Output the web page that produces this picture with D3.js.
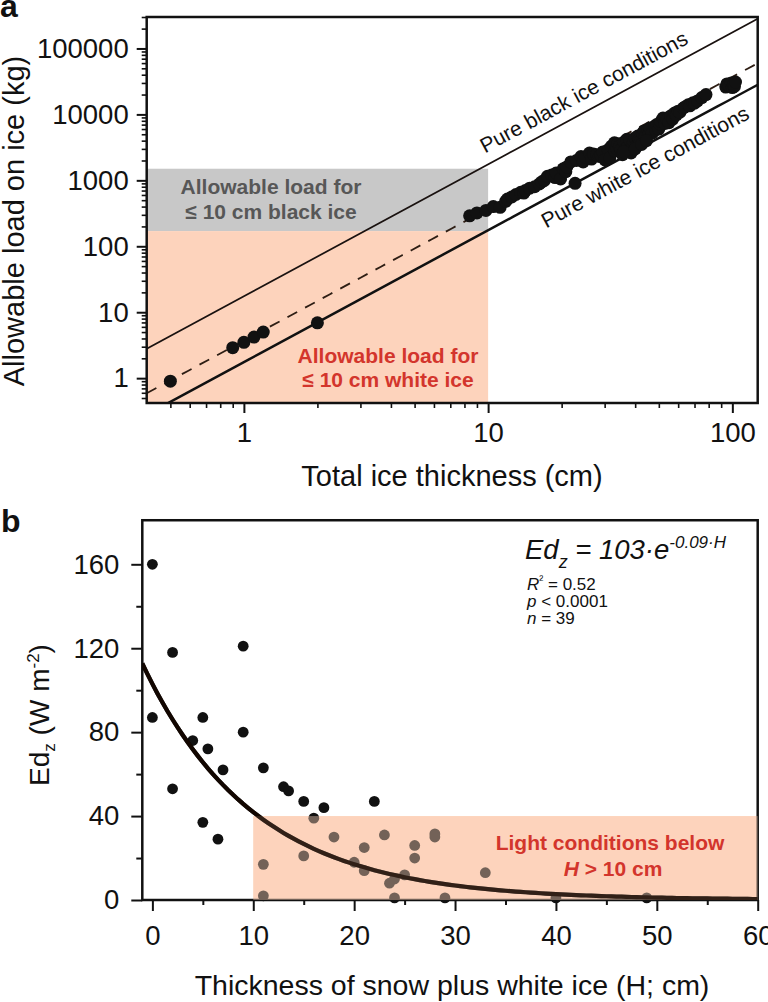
<!DOCTYPE html>
<html><head><meta charset="utf-8">
<script src="https://cdn.jsdelivr.net/npm/d3@7"></script>
<style>
body{margin:0;background:#fff}
svg{display:block}
text{font-family:"Liberation Sans",Arial,Helvetica,sans-serif;fill:#111}
</style>
</head><body>
<svg id="chart" width="768" height="1002"></svg>
<script>
// ---------- Panel a data ----------
const thinIceThickness = [0.5, 0.9, 1.0, 1.1, 1.2, 2.0];
const thinIceLoad      = [0.9, 2.9, 3.5, 4.2, 5.0, 6.9];
const lakeIceThickness = [
  8.4, 9.0, 9.8, 10.5, 11.2, 11.8, 12.0, 12.5, 13.0, 13.6, 14.0, 14.2,
  14.8, 15.5, 16.2, 16.6, 17.0, 17.5, 18.2, 18.8, 19.0, 19.8, 20.3, 20.8, 21.0,
  21.8, 22.7, 23.0, 24.0, 24.5, 25.0, 26.0, 26.5, 27.0, 27.8, 28.5, 29.0, 29.5,
  30.1, 31.0, 31.5, 32.0, 32.9, 33.0, 33.5, 34.0, 34.5, 35.0, 35.5, 36.0, 36.5, 37.0, 37.5,
  38.0, 38.5, 39.0, 39.5, 40.0, 40.5, 41.0, 41.5, 42.0, 43.0, 43.5, 44.0, 45.0, 45.5,
  46.0, 47.0, 48.0, 48.5, 49.0, 50.0, 50.5, 51.0, 52.0, 53.0, 54.0, 55.0, 56.0, 57.0,
  58.0, 59.0, 60.0, 61.0, 63.0, 64.0, 66.0, 67.0, 69.0, 70.0, 72.0, 75.0, 78.0,
  94.0, 95.0, 97.0, 99.0, 100.0, 101.0, 102.0, 103.0,
  36.0, 40.0, 42.5, 44.5];
const lakeIceLoad = [
  290, 320, 350, 400, 390, 480, 520, 560, 610, 660, 640, 700,
  760, 800, 880, 950, 1000, 1150, 1200, 1100, 1290, 1050, 1500, 1350, 1600,
  1900, 900, 2000, 2300, 1900, 2250, 2600, 2100, 2500, 2450, 2300, 2400, 2700,
  2050, 2900, 2200, 3300, 3700, 2800, 3100, 3600, 3250, 2900, 2450, 3800, 3000, 4200, 3300,
  4100, 2600, 3500, 3900, 4400, 3300, 4700, 4200, 3900, 5200, 5600, 4600, 5800, 5000,
  6200, 5200, 6600, 5800, 7000, 6000, 7200, 7800, 8800, 7300, 8300, 7500, 9500, 8500,
  10500, 9800, 11200, 10800, 12500, 13000, 14000, 13500, 15000, 14800, 16000, 18000, 20000,
  26000, 29000, 27500, 30000, 25500, 28000, 26500, 31000,
  2700, 3000, 3500, 4000];
const blackIceCoef = 17.5;   // load = coef * h^2
const whiteIceCoef = 1.75;
const fittedCoef   = 3.7;
const blackIceBox  = [0.4, 10, 170, 1500];   // h0,h1,load0,load1
const whiteIceBox  = [0.4, 10, 0.42, 170];
const loadTicks      = [1, 10, 100, 1000, 10000, 100000];
const thicknessTicks = [1, 10, 100];

// ---------- Panel b data ----------
const snowWhiteH = [0, 0, 2, 2, 4, 5, 5, 5.5, 6.5, 7, 9, 9, 11, 11, 11, 13, 13.5, 15, 15, 16,
                    17, 18, 20, 21, 21, 22, 23, 23.5, 24, 24, 25, 26, 26, 28, 28, 29, 33, 40, 49];
const edzValues  = [160, 87, 118, 53, 76, 87, 37, 72, 29, 62, 121, 80, 63, 17, 2, 54, 52, 47, 21, 39,
                    44, 30, 18, 25, 14, 47, 31, 8, 10, 1, 12, 26, 20, 30, 31.5, 1, 13, 1, 1];
const fitA = 103, fitK = 0.09;
const lightBox = [10, 60, 0, 40];
const edTicks = [0, 40, 80, 120, 160];
const edMinorTicks = [20, 60, 100, 140];
const hTicks = [0, 10, 20, 30, 40, 50, 60];
const hMinorTicks = [5, 15, 25, 35, 45, 55];

const svg = d3.select("#chart");
const FONT = 27.5;
const PEACH = "#fdd3bc";

// ================= PANEL A =================
const ax = d3.scaleLog().domain([0.4, 127]).range([146.7, 757.7]);
const ay = d3.scaleLog().domain([0.42, 3e5]).range([403, 17]);
const ga = svg.append("g");

ga.append("clipPath").attr("id","clipA").append("rect")
  .attr("x",146.7).attr("y",17).attr("width",611).attr("height",386);

ga.append("rect").attr("x",ax(blackIceBox[0])).attr("width",ax(blackIceBox[1])-ax(blackIceBox[0]))
  .attr("y",ay(blackIceBox[3])).attr("height",ay(blackIceBox[2])-ay(blackIceBox[3])).attr("fill","#c8c8c8");
ga.append("rect").attr("x",ax(whiteIceBox[0])).attr("width",ax(whiteIceBox[1])-ax(whiteIceBox[0]))
  .attr("y",ay(whiteIceBox[3])).attr("height",ay(whiteIceBox[2])-ay(whiteIceBox[3])).attr("fill",PEACH);

ga.append("text").attr("x",271).attr("y",193.5).attr("text-anchor","middle")
  .style("font-size","21px").style("font-weight","bold").style("fill","#575757").text("Allowable load for");
ga.append("text").attr("x",271).attr("y",218.5).attr("text-anchor","middle")
  .style("font-size","21px").style("font-weight","bold").style("fill","#575757").text("≤ 10 cm black ice");
ga.append("text").attr("x",388).attr("y",363).attr("text-anchor","middle")
  .style("font-size","21px").style("font-weight","bold").style("fill","#d3352c").text("Allowable load for");
ga.append("text").attr("x",388).attr("y",387).attr("text-anchor","middle")
  .style("font-size","21px").style("font-weight","bold").style("fill","#d3352c").text("≤ 10 cm white ice");

const hGrid = d3.range(0, 61).map(i => 0.4 * Math.pow(127/0.4, i/60));
const lineFor = c => d3.line().x(h => ax(h)).y(h => ay(c*h*h));
const lines = ga.append("g").attr("clip-path","url(#clipA)");
lines.append("path").attr("d", lineFor(blackIceCoef)(hGrid)).attr("fill","none").attr("stroke","#1a1210").attr("stroke-width",1.8);
lines.append("path").attr("d", lineFor(whiteIceCoef)(hGrid)).attr("fill","none").attr("stroke","#111").attr("stroke-width",2.4);
lines.append("path").attr("d", lineFor(fittedCoef)(hGrid)).attr("fill","none").attr("stroke","#2e1e14")
  .attr("stroke-width",1.8).attr("stroke-dasharray","11,9");

const angleA = Math.atan2(ay(blackIceCoef*10000) - ay(blackIceCoef*100), ax(100) - ax(10)) * 180 / Math.PI;
function lineLabel(coef, h, offset, txt){
  const x = ax(h), y = ay(coef*h*h);
  ga.append("text").attr("transform",`translate(${x},${y}) rotate(${angleA}) translate(0,${offset})`)
    .style("font-size","21px").text(txt);
}
lineLabel(blackIceCoef, 10.2, -11, "Pure black ice conditions");
lineLabel(whiteIceCoef, 15.4, 26, "Pure white ice conditions");

const dotsA = thinIceThickness.map((h,i)=>[h,thinIceLoad[i]])
  .concat(lakeIceThickness.map((h,i)=>[h,lakeIceLoad[i]]));
ga.append("g").selectAll("circle").data(dotsA).join("circle")
  .attr("cx",d=>ax(d[0])).attr("cy",d=>ay(d[1])).attr("r",6.5).attr("fill","#111");

function logMinor(domain){
  const out=[]; for(let e=-1;e<=5;e++){ for(let k=2;k<=9;k++){ const v=k*Math.pow(10,e); if(v>=domain[0]&&v<=domain[1]) out.push(v);} }
  return out;
}
function styleAxis(g, w){ g.select(".domain").remove(); g.selectAll("line").attr("stroke","#111").attr("stroke-width",w); g.selectAll("text").style("font-size",FONT+"px").style("fill","#111").attr("font-family",null); }
const ayMaj = ga.append("g").attr("transform","translate(146.7,0)")
  .call(d3.axisLeft(ay).tickValues(loadTicks).tickFormat(d3.format("d")).tickSize(10).tickPadding(8));
styleAxis(ayMaj,2);
const ayMin = ga.append("g").attr("transform","translate(146.7,0)")
  .call(d3.axisLeft(ay).tickValues(logMinor(ay.domain())).tickFormat("").tickSize(5));
styleAxis(ayMin,1.6);
const axMaj = ga.append("g").attr("transform","translate(0,403)")
  .call(d3.axisBottom(ax).tickValues(thicknessTicks).tickFormat(d3.format("d")).tickSize(10).tickPadding(9));
styleAxis(axMaj,2);
const axMin = ga.append("g").attr("transform","translate(0,403)")
  .call(d3.axisBottom(ax).tickValues(logMinor(ax.domain()).filter(v=>v>0.45)).tickFormat("").tickSize(5));
styleAxis(axMin,1.6);
ga.append("rect").attr("x",146.7).attr("y",17).attr("width",611).attr("height",386)
  .attr("fill","none").attr("stroke","#111").attr("stroke-width",2.5);

ga.append("text").attr("transform","translate(24,221) rotate(-90)").attr("text-anchor","middle")
  .style("font-size","29px").text("Allowable load on ice (kg)");
ga.append("text").attr("x",452).attr("y",486).attr("text-anchor","middle")
  .style("font-size","29px").text("Total ice thickness (cm)");
svg.append("text").attr("x",0).attr("y",17).style("font-size","32px").style("font-weight","bold").text("a");

// ================= PANEL B =================
const bx = d3.scaleLinear().domain([-1, 60]).range([142.3, 757.7]);
const by = d3.scaleLinear().domain([0, 160]).range([900, 564.3]);
const bTop = by(181);
const gb = svg.append("g");
gb.append("clipPath").attr("id","clipB").append("rect")
  .attr("x",142.3).attr("y",bTop).attr("width",757.7-142.3).attr("height",900-bTop);

const boxX = bx(lightBox[0]), boxW = bx(lightBox[1])-bx(lightBox[0]);
const boxY = by(lightBox[3]), boxH = by(lightBox[2])-by(lightBox[3]);
gb.append("rect").attr("x",boxX).attr("width",boxW).attr("y",boxY).attr("height",boxH).attr("fill",PEACH);

gb.append("rect").attr("x",142.3).attr("y",bTop).attr("width",757.7-142.3).attr("height",900-bTop)
  .attr("fill","none").attr("stroke","#111").attr("stroke-width",2.5);

const byMaj = gb.append("g").attr("transform","translate(142.3,0)")
  .call(d3.axisLeft(by).tickValues(edTicks).tickSize(11).tickPadding(12));
styleAxis(byMaj,2);
const byMin = gb.append("g").attr("transform","translate(142.3,0)")
  .call(d3.axisLeft(by).tickValues(edMinorTicks).tickFormat("").tickSize(6));
styleAxis(byMin,2);
const bxMaj = gb.append("g").attr("transform","translate(0,900)")
  .call(d3.axisBottom(bx).tickValues(hTicks).tickSize(11).tickPadding(14));
styleAxis(bxMaj,2);
const bxMin = gb.append("g").attr("transform","translate(0,900)")
  .call(d3.axisBottom(bx).tickValues(hMinorTicks).tickFormat("").tickSize(5));
styleAxis(bxMin,2);

gb.append("g").selectAll("circle").data(snowWhiteH.map((h,i)=>[h,edzValues[i]])).join("circle")
  .attr("cx",d=>bx(d[0])).attr("cy",d=>by(d[1])).attr("r",5.4).attr("fill","#111");

const hCurve = d3.range(-1, 60.01, 0.5);
const curve = d3.line().x(h=>bx(h)).y(h=>by(fitA*Math.exp(-fitK*h)));
gb.append("path").attr("d",curve(hCurve)).attr("fill","none").attr("stroke","#000").attr("stroke-width",4.2).attr("clip-path","url(#clipB)");

// translucent peach veil over marks inside the light box
gb.append("rect").attr("x",boxX).attr("width",boxW).attr("y",boxY).attr("height",boxH)
  .attr("fill",PEACH).attr("fill-opacity",0.42);
gb.append("path").attr("d",curve(hCurve)).attr("fill","none").attr("stroke","#1a0800").attr("stroke-opacity",0.7).attr("stroke-width",4.2).attr("clip-path","url(#clipB)");

gb.append("text").attr("x",610).attr("y",850).attr("text-anchor","middle")
  .style("font-size","21px").style("font-weight","bold").style("fill","#d3352c").text("Light conditions below");
const t2 = gb.append("text").attr("x",613).attr("y",876).attr("text-anchor","middle")
  .style("font-size","21px").style("font-weight","bold").style("fill","#d3352c");
t2.append("tspan").style("font-style","italic").text("H");
t2.append("tspan").text(" > 10 cm");

const eq = gb.append("text").attr("x",525).attr("y",559).style("font-size","27.5px").style("font-style","italic");
eq.append("tspan").text("Ed");
eq.append("tspan").attr("dy",9).style("font-size","18px").text("z");
eq.append("tspan").attr("dy",-9).text(" = 103·e");
eq.append("tspan").attr("dy",-11).style("font-size","17px").text("-0.09·H");
const st = [["R","²"," = 0.52",590],["p",""," < 0.0001",607],["n",""," = 39",624]];
st.forEach(s=>{
  const t = gb.append("text").attr("x",527).attr("y",s[3]).style("font-size","17px");
  t.append("tspan").style("font-style","italic").text(s[0]);
  if(s[1]) t.append("tspan").style("font-size","12px").attr("dy",-6).text(s[1]);
  t.append("tspan").attr("dy",s[1]?6:0).text(s[2]);
});

const yl = gb.append("text").attr("transform","translate(49,715) rotate(-90)").attr("text-anchor","middle").style("font-size","28px");
yl.append("tspan").text("Ed");
yl.append("tspan").attr("dy",6).style("font-size","17px").text("z");
yl.append("tspan").attr("dy",-6).text(" (W m");
yl.append("tspan").attr("dy",-10).style("font-size","17px").text("-2");
yl.append("tspan").attr("dy",10).text(")");
gb.append("text").attr("x",452).attr("y",995).attr("text-anchor","middle")
  .style("font-size","28.5px").text("Thickness of snow plus white ice (H; cm)");
svg.append("text").attr("x",1).attr("y",532).style("font-size","32px").style("font-weight","bold").text("b");
</script>
</body></html>
